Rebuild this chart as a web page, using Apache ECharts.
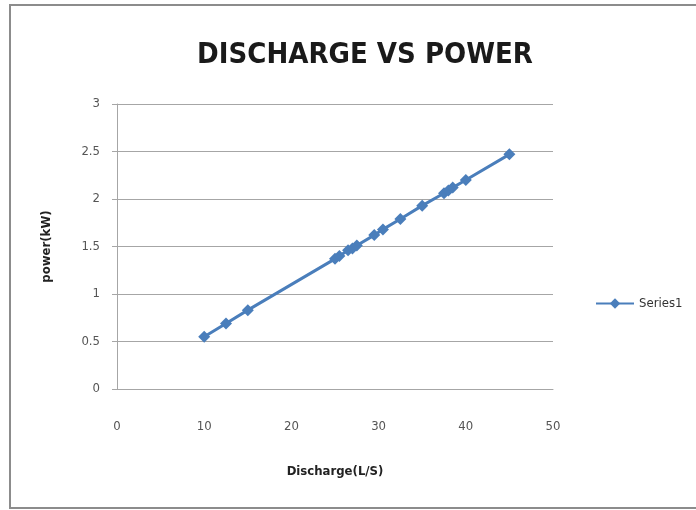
<!DOCTYPE html>
<html lang="en">
<head>
    <meta charset="UTF-8">
    <title>Discharge vs Power</title>
    <script src="https://cdn.jsdelivr.net/npm/echarts@6/dist/echarts.min.js"></script>
    <style>
        html, body { margin: 0; padding: 0; background: #fff; }
        #chart { width: 696px; height: 510px; }
    </style>
</head>
<body>
<div id="chart"></div>
<script type="text/javascript">
    // values
    var discharge = [10, 12.5, 15, 25, 25.5, 26.5, 27, 27.5, 29.5, 30.5, 32.5, 35, 37.5, 38, 38.5, 40, 45];
    var power = [0.55, 0.69, 0.83, 1.37, 1.40, 1.46, 1.48, 1.51, 1.62, 1.68, 1.79, 1.93, 2.06, 2.09, 2.12, 2.20, 2.47];
    var xTicks = [0, 10, 20, 30, 40, 50];
    var yTicks = [0, 0.5, 1, 1.5, 2, 2.5, 3];

    var fontNarrow = '"DejaVu Sans Condensed", "Liberation Sans", sans-serif';

    var points = [];
    for (var i = 0; i < discharge.length; i++) {
        points.push([discharge[i], power[i]]);
    }

    var chart = echarts.init(document.getElementById('chart'));
    var option = {
        backgroundColor: '#fff',
        animation: false,
        graphic: [{
            type: 'rect',
            shape: { x: 10, y: 5, width: 700, height: 503 },
            style: { fill: 'none', stroke: '#8c8c8c', lineWidth: 2 },
            silent: true
        }],
        title: {
            text: 'DISCHARGE VS POWER',
            left: 360,
            textAlign: 'center',
            top: 36,
            textStyle: { fontFamily: fontNarrow, fontWeight: 'bold', fontSize: 29, color: '#1a1a1a' }
        },
        legend: {
            left: 590,
            top: 292,
            itemWidth: 38,
            itemHeight: 13,
            itemGap: 4,
            textStyle: { fontFamily: fontNarrow, fontSize: 13, color: '#333' },
            data: ['Series1']
        },
        grid: { left: 117, right: 143, top: 104, bottom: 121 },
        xAxis: {
            type: 'value',
            min: xTicks[0],
            max: xTicks[xTicks.length - 1],
            interval: 10,
            name: 'Discharge(L/S)',
            nameLocation: 'middle',
            nameGap: 76,
            nameTextStyle: { fontFamily: fontNarrow, fontWeight: 'bold', fontSize: 13, color: '#222' },
            axisLine: { lineStyle: { color: '#a6a6a6', width: 1 } },
            axisTick: { show: false },
            axisLabel: { margin: 31, fontFamily: fontNarrow, fontSize: 13, color: '#555' },
            splitLine: { show: false }
        },
        yAxis: {
            type: 'value',
            min: yTicks[0],
            max: yTicks[yTicks.length - 1],
            interval: 0.5,
            name: 'power(kW)',
            nameLocation: 'middle',
            nameGap: 64,
            nameTextStyle: { fontFamily: fontNarrow, fontWeight: 'bold', fontSize: 13, color: '#222' },
            axisLine: { show: true, lineStyle: { color: '#a6a6a6', width: 1 } },
            axisTick: { show: true, length: 5, lineStyle: { color: '#a6a6a6' } },
            axisLabel: { margin: 17, fontFamily: fontNarrow, fontSize: 13, color: '#555' },
            splitLine: { lineStyle: { color: '#a6a6a6', width: 1.2 } }
        },
        series: [{
            name: 'Series1',
            type: 'line',
            data: points,
            symbol: 'diamond',
            symbolSize: 12,
            color: '#4a7ebb',
            lineStyle: { width: 3, color: '#4a7ebb' },
            itemStyle: { color: '#4a7ebb' }
        }]
    };
    chart.setOption(option);
</script>
</body>
</html>
